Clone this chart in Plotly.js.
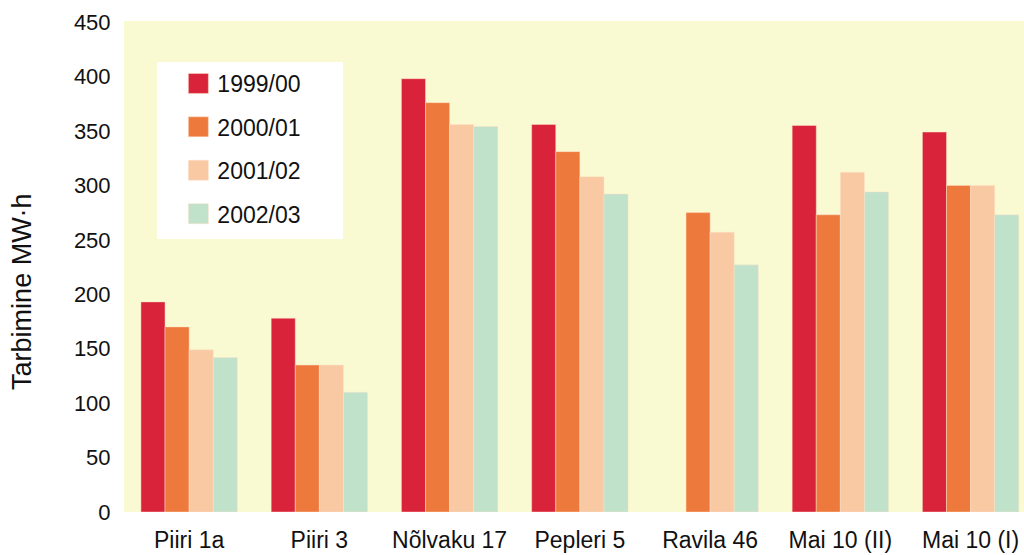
<!DOCTYPE html>
<html>
<head>
<meta charset="utf-8">
<script src="https://cdn.plot.ly/plotly-3.0.1.min.js"></script>
<style>
html,body{margin:0;padding:0;background:#fff;overflow:hidden;}
#chart{width:1024px;height:555px;}
</style>
</head>
<body>
<div id="chart"></div>
<script>
const categories = ["Piiri 1a", "Piiri 3", "Nõlvaku 17", "Pepleri 5", "Ravila 46", "Mai 10 (II)", "Mai 10 (I)"];
const seriesNames = ["1999/00", "2000/01", "2001/02", "2002/03"];
const v1999 = [193, 178, 398, 356, null, 355, 349];
const v2000 = [170, 135, 376, 331, 275, 273, 300];
const v2001 = [149, 135, 356, 308, 257, 312, 300];
const v2002 = [142, 110, 354, 292, 227, 294, 273];
const seriesColors = ["#D9233A", "#EE793C", "#F9C9A4", "#C0E1CA"];
const yTicks = [0, 50, 100, 150, 200, 250, 300, 350, 400, 450];

const allValues = [v1999, v2000, v2001, v2002];
const FONT = "Liberation Sans, Arial, Helvetica, sans-serif";

const traces = allValues.map((vals, i) => ({
  type: "bar",
  name: seriesNames[i],
  x: categories,
  y: vals,
  legendgroup: "g" + i,
  marker: {color: seriesColors[i], line: {width: 0.6, color: "rgba(255,225,200,0.8)"}},
  hoverinfo: "x+y+name"
}));

const layout = {
  width: 1024,
  height: 555,
  margin: {l: 124, r: 0, t: 21, b: 43, pad: 0},
  paper_bgcolor: "#ffffff",
  plot_bgcolor: "#FAFAD2",
  barmode: "group",
  bargap: 0.26,
  bargroupgap: 0,
  font: {family: FONT, color: "#111"},
  showlegend: true,
  legend: {
    x: 0.0593, y: 0.9165, xanchor: "left", yanchor: "top",
    bgcolor: "rgba(0,0,0,0)", borderwidth: 0,
    font: {family: FONT, size: 23, color: "#111"},
    traceorder: "grouped", tracegroupgap: 10.5
  },
  shapes: [{
    type: "rect", xref: "paper", yref: "paper",
    x0: 0.0367, x1: 0.2433, y0: 0.556, y1: 0.9165,
    fillcolor: "#ffffff", line: {width: 0}, layer: "below"
  }],
  xaxis: {
    type: "category",
    range: [-0.5, 6.41],
    showgrid: false, zeroline: false, showline: false,
    ticks: "outside", ticklen: 7, tickcolor: "rgba(0,0,0,0)",
    tickfont: {family: FONT, size: 23, color: "#111"},
    fixedrange: true
  },
  yaxis: {
    range: [0, 451],
    tickvals: yTicks,
    ticktext: yTicks.map(String),
    showgrid: false, zeroline: false, showline: false,
    ticks: "outside", ticklen: 8, tickcolor: "rgba(0,0,0,0)",
    tickfont: {family: FONT, size: 22, color: "#111"},
    title: {text: ""},
    fixedrange: true
  },
  annotations: [{
    text: "Tarbimine MW·h",
    textangle: -90,
    xref: "paper", yref: "paper",
    x: -0.1135, y: 0.45,
    xanchor: "center", yanchor: "middle",
    showarrow: false,
    font: {family: FONT, size: 27, color: "#111"}
  }]
};

Plotly.newPlot("chart", traces, layout, {displayModeBar: false, staticPlot: true}).then(() => {
  document.querySelectorAll("#chart .legend .legendpoints path").forEach(p => {
    p.setAttribute("d", "M10,10H-10V-10H10Z");
    p.setAttribute("transform", "translate(21,0)");
    p.style.strokeWidth = "0.6px";
  });
});
</script>
</body>
</html>
